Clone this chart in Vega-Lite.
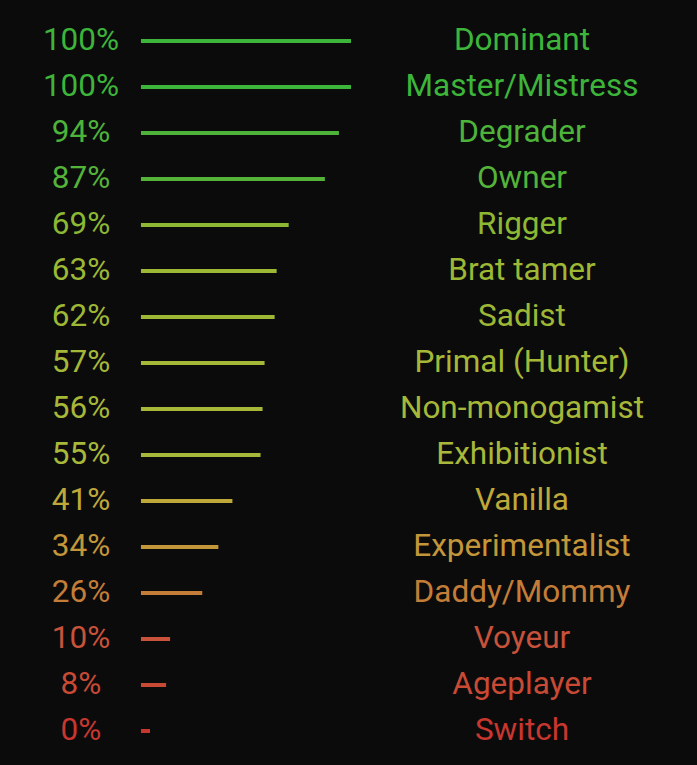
{
  "$schema": "https://vega.github.io/schema/vega-lite/v6.json",
  "width": 697,
  "height": 765,
  "autosize": "none",
  "padding": 0,
  "background": "#0b0b0b",
  "config": {"view": {"stroke": null}},
  "data": {
    "values": [
      {"name": "Dominant", "value": 1.00},
      {"name": "Master/Mistress", "value": 1.00},
      {"name": "Degrader", "value": 0.94},
      {"name": "Owner", "value": 0.87},
      {"name": "Rigger", "value": 0.69},
      {"name": "Brat tamer", "value": 0.63},
      {"name": "Sadist", "value": 0.62},
      {"name": "Primal (Hunter)", "value": 0.57},
      {"name": "Non-monogamist", "value": 0.56},
      {"name": "Exhibitionist", "value": 0.55},
      {"name": "Vanilla", "value": 0.41},
      {"name": "Experimentalist", "value": 0.34},
      {"name": "Daddy/Mommy", "value": 0.26},
      {"name": "Voyeur", "value": 0.10},
      {"name": "Ageplayer", "value": 0.08},
      {"name": "Switch", "value": 0.00}
    ]
  },
  "encoding": {
    "y": {
      "field": "name",
      "type": "nominal",
      "sort": null,
      "scale": {"type": "point", "range": [41, 731], "padding": 0},
      "axis": null
    },
    "color": {
      "field": "value",
      "type": "quantitative",
      "scale": {
        "domain": [0, 0.08, 0.10, 0.26, 0.34, 0.41, 0.55, 0.63, 0.69, 0.87, 0.94, 1.0],
        "range": ["#c8372f", "#c84a35", "#c8523a", "#c47d38", "#c4963a", "#bfa83a", "#a8b83a", "#9cb834", "#8cb834", "#55b33a", "#4db33a", "#3db53a"]
      },
      "legend": null
    }
  },
  "layer": [
    {
      "mark": {"type": "rule", "strokeWidth": 4},
      "encoding": {
        "x": {"field": "value", "type": "quantitative", "scale": {"domain": [-0.7463, 2.7214], "range": [0, 697], "zero": false, "nice": false}, "axis": null},
        "x2": {"datum": -0.045}
      }
    },
    {
      "mark": {"type": "text", "font": "Roboto", "fontSize": 31.5, "baseline": "middle", "align": "center"},
      "encoding": {
        "x": {"datum": -0.3433, "type": "quantitative"},
        "text": {"field": "value", "type": "quantitative", "format": ".0%"}
      }
    },
    {
      "mark": {"type": "text", "font": "Roboto", "fontSize": 31.5, "baseline": "middle", "align": "center"},
      "encoding": {
        "x": {"datum": 1.8507, "type": "quantitative"},
        "text": {"field": "name", "type": "nominal"}
      }
    }
  ]
}
